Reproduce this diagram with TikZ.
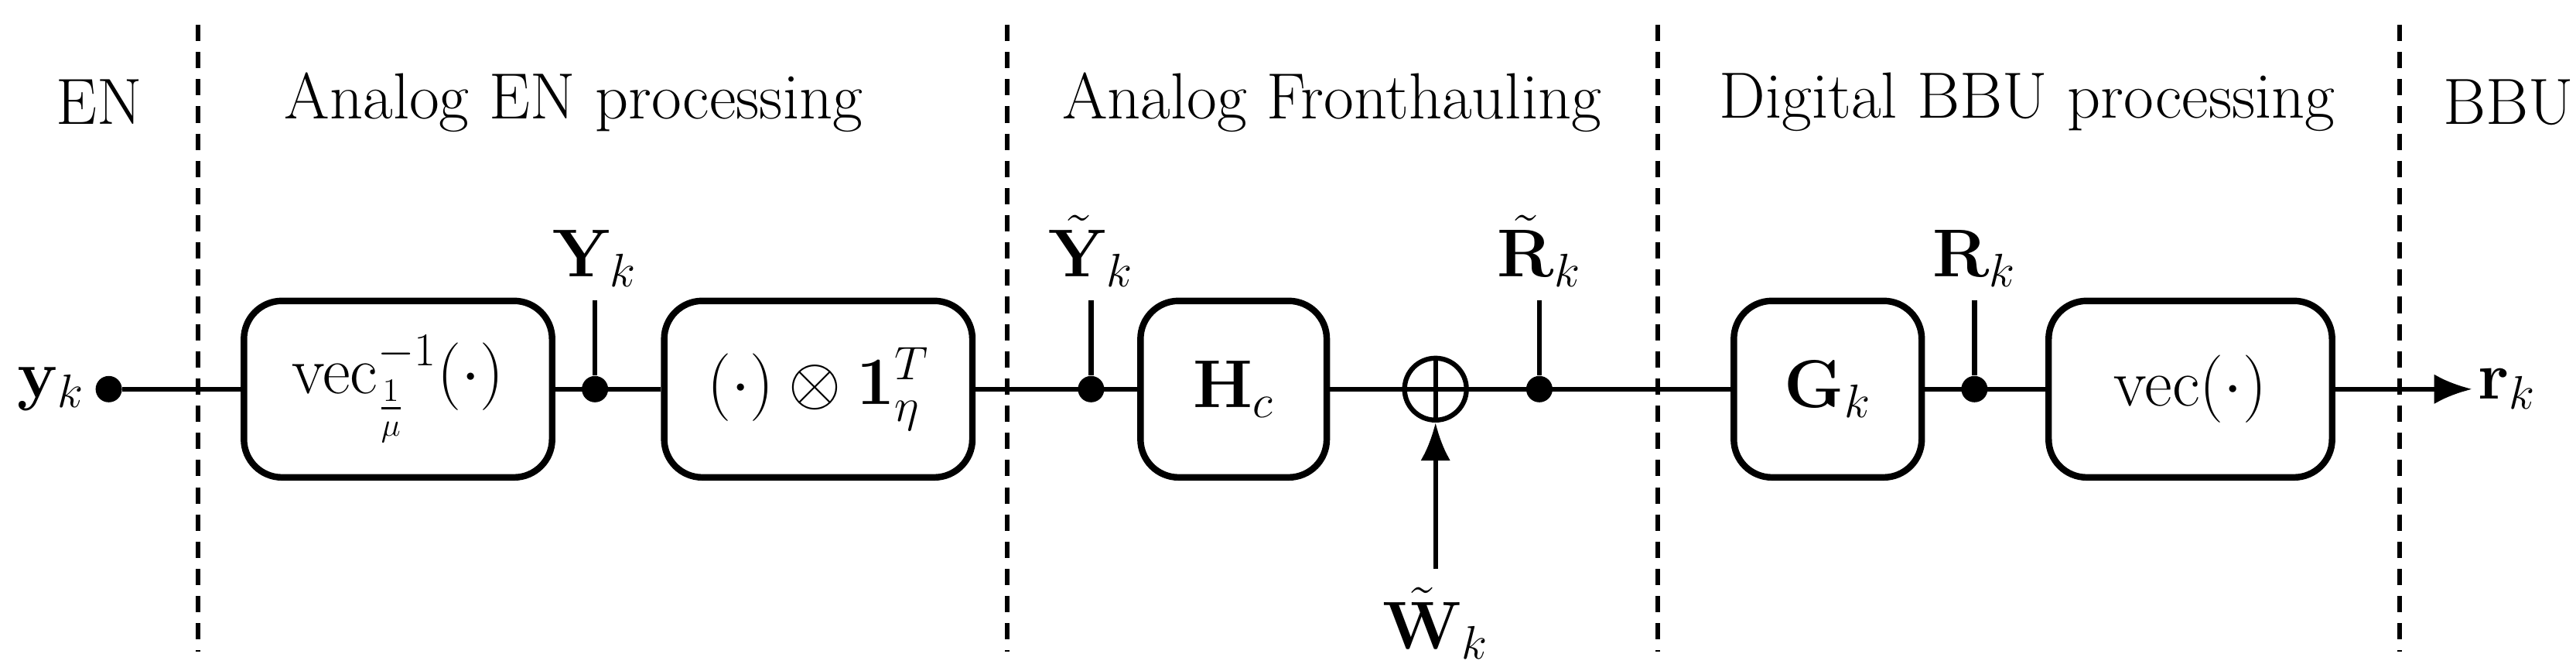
\documentclass[tikz,border=0pt]{standalone}
\usepackage{amsmath}
\usepackage{amssymb}
\usetikzlibrary{arrows.meta}
\begin{document}
\begin{tikzpicture}[x=0.0213cm, y=-0.0213cm,
  every node/.append style={font=\fontsize{24}{29}\selectfont},
  blk/.style={draw, rounded corners=14pt, line width=2.4pt, minimum height=2.28cm, inner sep=0pt},
  dot/.style={circle, fill, inner sep=0pt, minimum size=0.34cm},
  sig/.style={line width=1.8pt},
  sep/.style={line width=1.8pt, dash pattern=on 6pt off 4pt}]
	\useasboundingbox (0,0) rectangle (1563,406.5);

	% section borders and titles
	\foreach \x in {120,611,1006,1456}
		\draw [sep] (\x,15) -- (\x,395);
	\node at (60,62) {EN};
	\node at (348,62) {Analog EN processing};
	\node at (808,62) {Analog Fronthauling};
	\node at (1230,62) {Digital BBU processing};
	\node at (1522,62) {BBU};

	% blocks
	\node [blk, minimum width=187*0.0213cm] (vinv) at (241.5,236) {$\operatorname{vec}^{-1}_{\frac{1}{\mu}}(\cdot)$};
	\node [blk, minimum width=187*0.0213cm] (kron) at (496.5,236) {$(\cdot)\otimes\mathbf{1}_{\eta}^{T}$};
	\node [blk, minimum width=113*0.0213cm] (hc) at (748.5,236) {$\mathbf{H}_c$};
	\node [circle, draw, line width=1.8pt, inner sep=0pt, minimum size=0.8cm] (add) at (871,236) {};
	\draw [sig] (add.north) -- (add.south) (add.west) -- (add.east);
	\node [blk, minimum width=114*0.0213cm] (gk) at (1109,236) {$\mathbf{G}_k$};
	\node [blk, minimum width=172*0.0213cm] (vec) at (1329,236) {$\operatorname{vec}(\cdot)$};

	% taps
	\node [dot] (in) at (66,236) {};
	\node [anchor=east] at (57,236) {$\mathbf{y}_k$};
	\node [dot] (t1) at (361,236) {};
	\node [dot] (t2) at (662,236) {};
	\node [dot] (t3) at (934,236) {};
	\node [dot] (t4) at (1198,236) {};
	\foreach \t/\lab in {t1/\mathbf{Y}_k, t2/\tilde{\mathbf{Y}}_k, t3/\tilde{\mathbf{R}}_k, t4/\mathbf{R}_k} {
		\coordinate (\t u) at ([yshift=1.15cm]\t);
		\draw [sig] (\t) -- (\t u) node [above, inner sep=4pt] {$\lab$};
	}

	% signal path
	\coordinate (out) at (1500,236);
	\draw [sig] (in) -- (vinv);
	\draw [sig] (vinv) -- (kron);
	\draw [sig] (kron) -- (hc);
	\draw [sig] (hc) -- (add);
	\draw [sig] (add) -- (gk);
	\draw [sig] (gk) -- (vec);
	\draw [sig, -{Latex[length=14pt, width=11pt]}] (vec) -- (out);
	\node [anchor=west, inner sep=2pt] at (out) {$\mathbf{r}_k$};

	% noise
	\coordinate (w) at (871,345);
	\draw [sig, -{Latex[length=14pt, width=11pt]}] (w) -- (add);
	\node at (871,378) {$\tilde{\mathbf{W}}_k$};
\end{tikzpicture}
\end{document}
